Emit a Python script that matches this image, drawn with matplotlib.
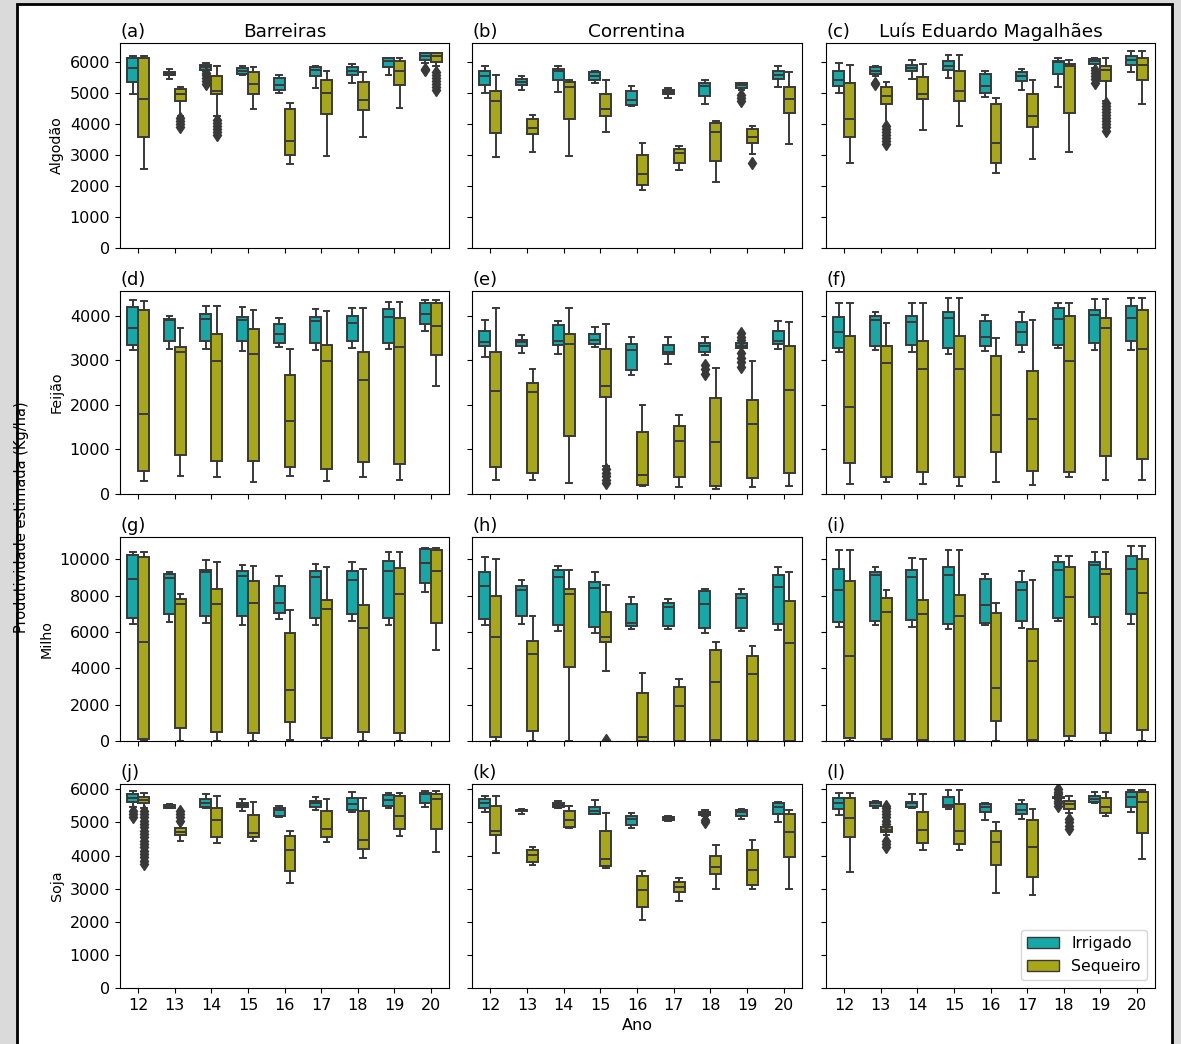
import matplotlib
matplotlib.use('Agg')
import matplotlib.pyplot as plt
from matplotlib.patches import Patch, Rectangle

years = ['12', '13', '14', '15', '16', '17', '18', '19', '20']
crops = ['Algodão', 'Feijão', 'Milho', 'Soja']
cities = ['Barreiras', 'Correntina', 'Luís Eduardo Magalhães']
hues = ['Irrigado', 'Sequeiro']

# box stats per year: (whislo, q1, med, q3, whishi)
alg_bar_irr = [(4990, 5360, 5820, 6140, 6220), (5460, 5580, 5630, 5700, 5780), (5710, 5760, 5850, 5910, 5980),
               (5600, 5630, 5740, 5820, 5890), (5000, 5110, 5260, 5490, 5600), (5160, 5550, 5760, 5840, 5890),
               (5350, 5610, 5740, 5840, 5950), (5600, 5850, 6050, 6130, 6160), (5980, 6090, 6220, 6300, 6320)]
alg_bar_seq = [(2550, 3580, 4810, 6130, 6220), (4280, 4770, 4980, 5140, 5200), (4270, 4980, 5090, 5550, 5900),
               (4490, 4970, 5300, 5700, 5840), (2710, 3000, 3470, 4510, 4700), (2990, 4320, 5000, 5440, 5720),
               (3580, 4470, 4790, 5370, 5700), (4520, 5280, 5740, 6040, 6130), (5870, 6020, 6220, 6300, 6320)]
alg_cor_irr = [(5000, 5270, 5570, 5730, 5900), (5110, 5280, 5380, 5460, 5560), (5060, 5440, 5710, 5780, 5870),
               (5330, 5440, 5570, 5680, 5740), (4590, 4630, 4790, 5090, 5250), (4840, 4970, 5060, 5110, 5170),
               (4660, 4900, 5240, 5350, 5420), (5110, 5180, 5260, 5330, 5350), (5200, 5470, 5600, 5730, 5870)]
alg_cor_seq = [(2930, 3710, 4760, 5080, 5590), (3110, 3680, 3870, 4160, 4310), (2980, 4170, 5220, 5360, 5440),
               (3740, 4270, 4510, 4980, 5430), (1880, 2030, 2390, 3000, 3400), (2520, 2760, 3080, 3190, 3300),
               (2130, 2800, 3750, 4050, 4120), (3040, 3400, 3600, 3850, 3960), (3360, 4380, 4810, 5200, 5700)]
alg_lem_irr = [(5000, 5250, 5420, 5740, 5980), (5550, 5620, 5740, 5840, 5890), (5460, 5710, 5820, 5920, 6090),
               (5510, 5760, 5870, 6050, 6230), (4870, 5000, 5240, 5620, 5740), (5110, 5410, 5550, 5700, 5790),
               (5200, 5630, 6030, 6050, 6130), (5820, 5950, 6050, 6110, 6160), (5680, 5920, 6090, 6220, 6360)]
alg_lem_seq = [(2760, 3600, 4180, 5330, 5920), (3980, 4660, 4910, 5220, 5380), (3820, 4810, 4980, 5520, 5950),
               (3960, 4750, 5080, 5740, 6230), (2410, 2740, 3400, 4650, 4840), (2870, 3920, 4280, 4980, 5440),
               (3100, 4360, 5890, 5960, 6090), (4770, 5400, 5760, 5900, 6160), (4650, 5440, 5920, 6140, 6360)]

fei_bar_irr = [(3220, 3350, 3720, 4200, 4340), (3250, 3430, 3900, 3930, 4000), (3250, 3420, 3920, 4030, 4220),
               (3210, 3440, 3890, 3960, 4190), (3290, 3380, 3580, 3810, 3940), (3220, 3380, 3870, 3960, 4150),
               (3270, 3420, 3840, 3980, 4180), (3250, 3380, 3960, 4150, 4300), (3660, 3810, 4040, 4290, 4350)]
fei_bar_seq = [(290, 520, 1800, 4130, 4330), (400, 870, 3190, 3300, 3720), (370, 730, 2990, 3590, 4220),
               (270, 730, 3130, 3690, 4130), (410, 610, 1640, 2660, 3250), (300, 550, 2970, 3330, 4110),
               (380, 710, 2560, 3190, 4180), (320, 680, 3290, 3940, 4300), (2410, 3110, 3770, 4280, 4350)]
fei_cor_irr = [(3070, 3310, 3400, 3660, 3900), (3170, 3310, 3400, 3460, 3570), (3130, 3340, 3440, 3780, 3870),
               (3290, 3370, 3460, 3590, 3750), (2670, 2780, 3220, 3370, 3510), (2910, 3130, 3190, 3350, 3510),
               (3120, 3190, 3320, 3390, 3510), (3190, 3270, 3320, 3380, 3420), (3250, 3370, 3440, 3660, 3870)]
fei_cor_seq = [(320, 600, 2300, 3190, 4160), (310, 460, 2280, 2490, 2800), (250, 1310, 3370, 3580, 4180),
               (620, 2180, 2410, 3260, 3810), (190, 210, 420, 1390, 2000), (150, 380, 1180, 1520, 1780),
               (120, 190, 1160, 2150, 2820), (150, 360, 1580, 2110, 2990), (170, 470, 2320, 3310, 3850)]
fei_lem_irr = [(3190, 3270, 3630, 3960, 4290), (3220, 3310, 3890, 4000, 4080), (3190, 3340, 3850, 3980, 4290),
               (3140, 3270, 3940, 4080, 4400), (3210, 3310, 3510, 3870, 4020), (3180, 3330, 3630, 3850, 4080),
               (3280, 3350, 3920, 4160, 4270), (3220, 3380, 4020, 4130, 4360), (3230, 3440, 3940, 4220, 4400)]
fei_lem_seq = [(220, 690, 1940, 3550, 4290), (260, 380, 2940, 3310, 3830), (220, 490, 2800, 3430, 4290),
               (190, 380, 2800, 3550, 4400), (260, 940, 1780, 3090, 3500), (200, 520, 1690, 2750, 3890),
               (380, 490, 2990, 3990, 4270), (320, 850, 3710, 3940, 4360), (310, 790, 3250, 4120, 4400)]

mil_bar_irr = [(6440, 6750, 8900, 10240, 10390), (6570, 6990, 8970, 9190, 9300), (6480, 6900, 9300, 9410, 9960),
               (6370, 6900, 9100, 9380, 9710), (6720, 7030, 7620, 8530, 9080), (6390, 6790, 9050, 9380, 9740),
               (6610, 6970, 8860, 9360, 9840), (6400, 6790, 9380, 9910, 10390), (8200, 8680, 9820, 10550, 10610)]
mil_bar_seq = [(0, 110, 5470, 10150, 10390), (0, 720, 7520, 7840, 8090), (0, 480, 7540, 8370, 9870),
               (0, 420, 7620, 8810, 9650), (50, 1060, 2790, 5960, 7210), (0, 170, 7250, 7760, 9600),
               (0, 500, 6220, 7490, 9450), (0, 420, 8070, 9540, 10390), (5010, 6510, 9380, 10520, 10610)]
mil_cor_irr = [(6370, 6720, 8530, 9300, 10130), (6460, 6900, 8290, 8550, 8860), (6070, 6370, 9010, 9410, 9630),
               (5960, 6290, 8440, 8770, 9300), (6150, 6330, 6480, 7520, 7950), (6150, 6330, 7400, 7580, 7800),
               (5960, 6240, 7560, 8260, 8370), (6070, 6240, 7850, 8110, 8370), (6110, 6440, 8460, 9120, 9560)]
mil_cor_seq = [(0, 200, 5740, 7980, 10000), (0, 550, 4770, 5520, 6900), (0, 4070, 8090, 8350, 9410),
               (3850, 5430, 5740, 7120, 8570), (0, 0, 200, 2620, 3760), (0, 0, 1950, 2970, 3410),
               (0, 50, 3230, 5010, 5450), (0, 0, 3690, 4700, 5230), (0, 0, 5380, 7710, 9300)]
mil_lem_irr = [(6290, 6550, 8290, 9470, 10500), (6370, 6590, 9160, 9320, 9600), (6290, 6660, 9010, 9410, 10090),
               (6150, 6440, 9140, 9600, 10530), (6390, 6480, 7490, 8900, 9210), (6240, 6620, 8310, 8770, 9360),
               (6610, 6750, 9400, 9870, 10180), (6460, 6810, 9690, 9870, 10400), (6420, 6970, 9470, 10180, 10750)]
mil_lem_seq = [(0, 170, 4700, 8810, 10500), (0, 90, 7080, 7870, 8310), (0, 40, 6990, 7780, 10000),
               (0, 0, 6860, 8040, 10530), (0, 1120, 2900, 7030, 7620), (0, 50, 4390, 6180, 8850),
               (0, 290, 7910, 9600, 10180), (0, 460, 9210, 9450, 10400), (0, 620, 8130, 10040, 10750)]

soj_bar_irr = [(5480, 5610, 5730, 5850, 5960), (5430, 5450, 5480, 5530, 5560), (5430, 5480, 5600, 5710, 5850),
               (5350, 5460, 5530, 5580, 5720), (5160, 5180, 5360, 5450, 5510), (5380, 5480, 5580, 5660, 5760),
               (5310, 5380, 5550, 5730, 5910), (5450, 5500, 5680, 5830, 5900), (5480, 5580, 5860, 5900, 5960)]
soj_bar_seq = [(5430, 5580, 5680, 5760, 5900), (4440, 4610, 4720, 4820, 4980), (4370, 4550, 5080, 5450, 5810),
               (4450, 4570, 4690, 5230, 5630), (3170, 3520, 4170, 4590, 4740), (4400, 4550, 4790, 5350, 5700),
               (3920, 4200, 4470, 5350, 5730), (4590, 4810, 5200, 5800, 5880), (4120, 4800, 5700, 5850, 5960)]
soj_cor_irr = [(5310, 5450, 5600, 5710, 5810), (5260, 5330, 5360, 5390, 5410), (5450, 5460, 5540, 5580, 5660),
               (5250, 5250, 5330, 5480, 5670), (4820, 4920, 5100, 5180, 5280), (5050, 5070, 5120, 5150, 5180),
               (5180, 5230, 5280, 5320, 5380), (5100, 5180, 5310, 5380, 5410), (5020, 5250, 5460, 5580, 5610)]
soj_cor_seq = [(4070, 4610, 4740, 5500, 5800), (3710, 3800, 4020, 4170, 4250), (4820, 4850, 5060, 5330, 5500),
               (3610, 3690, 3900, 4740, 5280), (2040, 2440, 2950, 3390, 3540), (2630, 2890, 3040, 3200, 3320),
               (3000, 3430, 3650, 4000, 4320), (3000, 3120, 3570, 4170, 4470), (3000, 3950, 4720, 5250, 5360)]
soj_lem_irr = [(5230, 5420, 5580, 5730, 5880), (5430, 5510, 5580, 5630, 5660), (5450, 5480, 5580, 5630, 5860),
               (5420, 5480, 5530, 5760, 5980), (5080, 5310, 5480, 5570, 5600), (5100, 5260, 5380, 5570, 5670),
               (5720, 5740, 5760, 5780, 5800), (5580, 5610, 5710, 5810, 5930), (5300, 5460, 5780, 5930, 5980)]
soj_lem_seq = [(3490, 4560, 5120, 5750, 5880), (4620, 4700, 4770, 4870, 4900), (4170, 4370, 4770, 5300, 5860),
               (4170, 4350, 4740, 5550, 5980), (2880, 3700, 4410, 4740, 5020), (2800, 3350, 4270, 5080, 5420),
               (5280, 5420, 5550, 5650, 5810), (5180, 5280, 5460, 5730, 5930), (3890, 4670, 5610, 5910, 5980)]

# outliers: (crop, city, hue, year index) -> values
fliers = {
    (0, 0, 1, 1): [3900, 4000, 4100, 4200],
    (0, 0, 0, 2): [5300, 5400, 5500, 5600, 5650],
    (0, 0, 1, 2): [3650, 3750, 3850, 3950, 4050, 4150],
    (0, 0, 0, 8): [5750, 5800],
    (0, 0, 1, 8): [5100, 5200, 5300, 5400, 5500, 5600, 5700],
    (0, 1, 0, 7): [4750, 4850, 4950],
    (0, 1, 1, 7): [2750],
    (0, 2, 0, 1): [5300, 5350],
    (0, 2, 1, 1): [3350, 3450, 3550, 3650, 3750, 3850, 3950],
    (0, 2, 0, 7): [5350, 5450, 5550, 5650, 5750],
    (0, 2, 1, 7): [3800, 3900, 4000, 4100, 4200, 4300, 4400, 4500, 4600, 4700],
    (1, 1, 1, 3): [250, 320, 400, 480, 560],
    (1, 1, 0, 6): [2700, 2800, 2900],
    (1, 1, 0, 7): [2850, 2950, 3050, 3150, 3460, 3530, 3600],
    (2, 1, 1, 3): [50],
    (3, 0, 0, 0): [5150, 5250, 5350],
    (3, 0, 1, 0): [3750, 3850, 3950, 4050, 4150, 4250, 4350, 4450, 4550, 4650, 4750, 4850, 4950, 5050, 5150, 5250, 5350],
    (3, 0, 1, 1): [5050, 5150, 5250, 5350],
    (3, 1, 0, 6): [5000, 5080],
    (3, 2, 1, 1): [4250, 4350, 4450, 4950, 5050, 5150, 5250, 5350, 5450, 5500],
    (3, 2, 0, 6): [5500, 5580, 5650, 5850, 5930, 6000],
    (3, 2, 1, 6): [4800, 4900, 5000, 5100],
}

panels = [
    [(alg_bar_irr, alg_bar_seq), (alg_cor_irr, alg_cor_seq), (alg_lem_irr, alg_lem_seq)],
    [(fei_bar_irr, fei_bar_seq), (fei_cor_irr, fei_cor_seq), (fei_lem_irr, fei_lem_seq)],
    [(mil_bar_irr, mil_bar_seq), (mil_cor_irr, mil_cor_seq), (mil_lem_irr, mil_lem_seq)],
    [(soj_bar_irr, soj_bar_seq), (soj_cor_irr, soj_cor_seq), (soj_lem_irr, soj_lem_seq)],
]
ytop = [6630, 4550, 11230, 6160]
ystep = [1000, 1000, 2000, 1000]
ymax_tick = [6000, 4000, 10000, 6000]

colors = ['#18a7a7', '#a7a718']
gray = '#393939'
W, H = 1181, 1044

fig = plt.figure(figsize=(W / 100, H / 100), dpi=100, facecolor='#dadada')
# white page with black frame
page = Rectangle((17 / W, -0.02), (1172 - 17) / W, 1.02 - 4 / H, transform=fig.transFigure,
                 facecolor='white', edgecolor='black', linewidth=2, zorder=-1)
fig.add_artist(page)

col_x = [(120, 329), (472, 330), (826, 329)]
row_y = [(43, 248), (291, 494), (537, 741), (784, 988)]
letters = 'abcdefghijkl'

for r in range(4):
    for c in range(3):
        x0, w = col_x[c]
        top, bot = row_y[r]
        ax = fig.add_axes([x0 / W, 1 - bot / H, w / W, (bot - top) / H])
        for h in range(2):
            stats = []
            for i, (lo, q1, med, q3, hi) in enumerate(panels[r][c][h]):
                stats.append(dict(whislo=lo, q1=q1, med=med, q3=q3, whishi=hi,
                                  fliers=fliers.get((r, c, h, i), [])))
            pos = [i - 0.15 if h == 0 else i + 0.15 for i in range(len(years))]
            ax.bxp(stats, positions=pos, widths=0.3, patch_artist=True, manage_ticks=False,
                   boxprops=dict(facecolor=colors[h], edgecolor=gray, linewidth=1.4),
                   medianprops=dict(color=gray, linewidth=1.4),
                   whiskerprops=dict(color=gray, linewidth=1.4),
                   capprops=dict(color=gray, linewidth=1.4),
                   flierprops=dict(marker='d', markerfacecolor=gray, markeredgecolor=gray,
                                   markersize=6, linestyle='none'))
        ax.set_xlim(-0.5, len(years) - 0.5)
        ax.set_ylim(0, ytop[r])
        ax.set_xticks(range(len(years)))
        ax.set_yticks(range(0, ymax_tick[r] + 1, ystep[r]))
        ax.tick_params(labelsize=11.5)
        if r == 3:
            ax.set_xticklabels(years)
        else:
            ax.tick_params(labelbottom=False)
        if c == 0:
            ax.set_ylabel(crops[r], fontsize=10.3)
        else:
            ax.tick_params(labelleft=False)
        ax.set_title('(' + letters[r * 3 + c] + ')', loc='left', fontsize=13, pad=4)
        if r == 0:
            ax.set_title(cities[c], fontsize=13.3, pad=4)
        if r == 3 and c == 1:
            ax.set_xlabel('Ano', fontsize=11.5)
        if r == 3 and c == 2:
            handles = [Patch(facecolor=colors[k], edgecolor=gray, label=hues[k]) for k in range(2)]
            ax.legend(handles=handles, loc='lower right', fontsize=11.3)

fig.text(22 / W, 1 - 517 / H, 'Produtividade estimada (Kg/ha)', rotation=90,
         ha='center', va='center', fontsize=10.5)

fig.savefig('out.png', dpi=100, facecolor=fig.get_facecolor())
